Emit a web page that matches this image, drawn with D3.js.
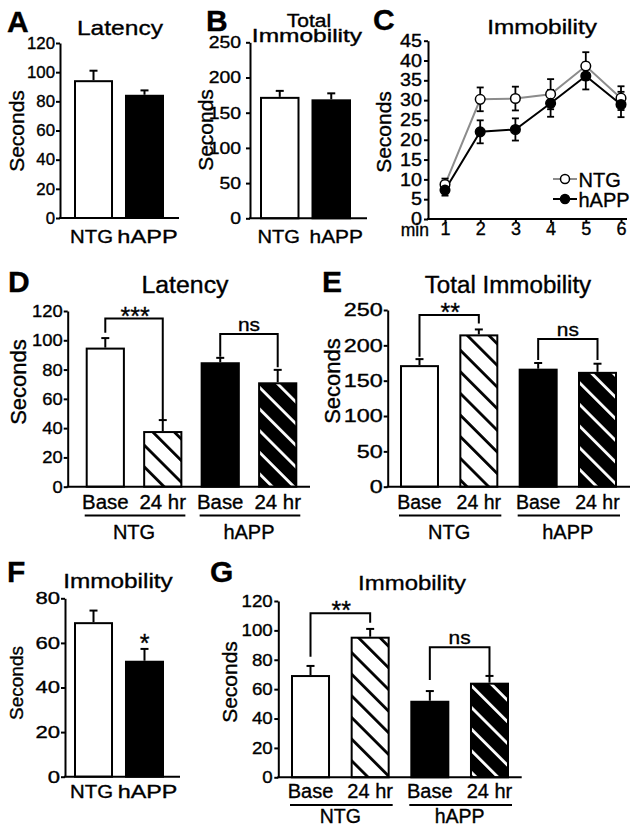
<!DOCTYPE html>
<html><head><meta charset="utf-8">
<script src="https://cdn.jsdelivr.net/npm/d3@7"></script>
<style>
body{margin:0;background:#fff}
svg{display:block}
svg text{stroke:#000;stroke-width:0.35px}
</style>
</head><body>
<svg id="c" width="640" height="832"></svg>
<script>
// ================= DATA =================
const groupsAB = ["NTG", "hAPP"];
const latencyA = [94.5, 84.5];
const latencyAErr = [6.5, 3];
const totalImmB = [172.5, 169];
const totalImmBErr = [8.5, 8.5];

const minutes = [1, 2, 3, 4, 5, 6];
const immNTG = [8.7, 30.2, 30.4, 31.5, 38.6, 30.5];
const immNTGErr = [1.5, 3, 3, 3.8, 3.5, 3];
const immHAPP = [7.3, 22, 22.6, 29.2, 36.1, 28.9];
const immHAPPErr = [1.4, 2.9, 2.8, 3.4, 3.4, 3.2];

const conditions = ["NTG Base", "NTG 24 hr", "hAPP Base", "hAPP 24 hr"];
const conditionLabels = ["Base", "24 hr", "Base", "24 hr"];
const genotypes = ["NTG", "hAPP"];
const latencyD = [95, 38, 85, 71.3];
const latencyDErr = [6.5, 7.5, 3, 8.5];
const totalImmE = [172, 215.5, 167, 162.5];
const totalImmEErr = [8.5, 7, 8, 11.5];
const immF = [69.3, 52];
const immFErr = [5.2, 5.3];
const immG = [69.6, 95.7, 52.1, 64.4];
const immGErr = [6.2, 5.3, 6.6, 4.6];

const ticks120 = [0, 20, 40, 60, 80, 100, 120];
const ticks250 = [0, 50, 100, 150, 200, 250];
const ticks45 = [0, 5, 10, 15, 20, 25, 30, 35, 40, 45];
const ticks80 = [0, 20, 40, 60, 80];

// significance brackets: [from bar, to bar, bracket top, left leg end, right leg end, label]
const sigD = [[0, 1, 114.8, 105.2, 45.6, "***"], [2, 3, 104.3, 88.8, 81.5, "ns"]];
const sigE = [[0, 1, 243, 184, 231, "**"], [2, 3, 209, 179.3, 179.3, "ns"]];
const sigG = [[0, 1, 111.6, 82.1, 105.2, "**"], [2, 3, 88.5, 66.2, 69.6, "ns"]];
const sigF = [[1, "*"]];

// ================= DRAWING =================
const FONT = '"Liberation Sans", Arial, Helvetica, sans-serif';
const svg = d3.select("#c");
const defs = svg.append("defs");
function hatch(id, bg, fg) {
  const s = 15.3;
  const p = defs.append("pattern").attr("id", id).attr("patternUnits", "userSpaceOnUse")
    .attr("width", s).attr("height", s).attr("patternTransform", "rotate(-45)");
  p.append("rect").attr("width", s).attr("height", s).attr("fill", bg);
  p.append("rect").attr("x", 0).attr("width", 2.8).attr("height", s).attr("fill", fg);
}
hatch("hw", "#fff", "#000");
hatch("hb", "#000", "#fff");
const fills2 = ["#fff", "#000"];
const fills4 = ["#fff", "url(#hw)", "#000", "url(#hb)"];

function stretch(sel, sx) {
  if (!sx || sx === 1) return;
  sel.each(function () {
    const l = this.getComputedTextLength();
    this.setAttribute("textLength", l * sx);
    this.setAttribute("lengthAdjust", "spacingAndGlyphs");
  });
}
function txt(g, s, x, y, fs, o = {}) {
  const t = g.append("text").attr("x", x).attr("y", y)
    .attr("font-family", FONT).attr("font-size", fs).attr("fill", "#000")
    .attr("text-anchor", o.anchor || "middle").text(s);
  if (o.bold) t.attr("font-weight", "bold");
  if (o.transform) t.attr("transform", o.transform);
  stretch(t, o.sx);
  return t;
}
function yLabel(g, x, y, fs) {
  return txt(g, "Seconds", 0, 0, fs, { transform: `translate(${x},${y}) rotate(-90)` });
}

function barPanel(o) {
  const g = svg.append("g");
  const y = d3.scaleLinear().domain(o.yDomain).range(o.yRange);
  const x = d3.scaleBand().domain(o.cats).range([o.barL, o.barR]).paddingInner(o.pi).paddingOuter(0);
  const bw = x.bandwidth();
  const rows = o.cats.map((c, i) => ({ c, v: o.values[i], e: o.errs[i], f: o.fills[i], lab: o.labels[i] }));
  const cx = d => x(d.c) + bw / 2;

  // error bars (upward)
  const eb = g.selectAll("g.eb").data(rows).join("g").attr("class", "eb");
  eb.append("line").attr("x1", cx).attr("x2", cx)
    .attr("y1", d => y(d.v)).attr("y2", d => y(d.v + d.e))
    .attr("stroke", "#000").attr("stroke-width", 2);
  eb.append("line").attr("x1", d => cx(d) - 4).attr("x2", d => cx(d) + 4)
    .attr("y1", d => y(d.v + d.e)).attr("y2", d => y(d.v + d.e))
    .attr("stroke", "#000").attr("stroke-width", 2);

  // bars
  g.selectAll("rect.bar").data(rows).join("rect").attr("class", "bar")
    .attr("x", d => x(d.c) + 1).attr("width", bw - 2)
    .attr("y", d => y(d.v) + 1).attr("height", d => y(0) - y(d.v) - 1)
    .attr("fill", d => d.f).attr("stroke", "#000").attr("stroke-width", 2);

  // y axis
  const ax = g.append("g").attr("transform", `translate(${o.axisX},0)`)
    .call(d3.axisLeft(y).tickValues(o.ticks).tickSize(4).tickPadding(o.pad).tickSizeOuter(0));
  ax.attr("font-family", FONT).attr("font-size", o.tickFs);
  ax.selectAll("path,line").attr("stroke", "#000").attr("stroke-width", 2);
  ax.selectAll("text").attr("fill", "#000");
  stretch(ax.selectAll("text"), o.tickSx);
  // x axis baseline
  g.append("line").attr("x1", o.axisX - 1).attr("x2", o.xEnd)
    .attr("y1", y(0)).attr("y2", y(0)).attr("stroke", "#000").attr("stroke-width", 2);

  // category labels
  rows.forEach((d, i) => {
    const sx = Array.isArray(o.labSx) ? o.labSx[i] : o.labSx;
    const dx = o.labDx ? o.labDx[i] : 0;
    txt(g, d.lab, cx(d) + dx, o.labY, o.labFs, { sx });
  });

  // genotype groups
  if (o.groups) {
    o.groups.forEach((name, k) => {
      const a = x(o.cats[2 * k]), b = x(o.cats[2 * k + 1]) + bw;
      g.append("line").attr("x1", a - 1).attr("x2", b + 3).attr("y1", o.ulY).attr("y2", o.ulY)
        .attr("stroke", "#000").attr("stroke-width", 2);
      txt(g, name, (a + b) / 2, o.grpY, o.grpFs, {});
    });
  }

  // significance brackets
  (o.sig || []).forEach(([i, j, top, l, r, lab]) => {
    const xa = cx(rows[i]), xb = cx(rows[j]);
    g.append("path").attr("d", `M${xa},${y(l)}V${y(top)}H${xb}V${y(r)}`)
      .attr("fill", "none").attr("stroke", "#000").attr("stroke-width", 2);
    if (lab === "ns") txt(g, lab, (xa + xb) / 2, y(top) - 3, 19, { sx: 1.1 });
    else txt(g, lab, (xa + xb) / 2 + 1, y(top) + 6, 25, {});
  });
  (o.stars || []).forEach(([i, lab]) => {
    const d = rows[i];
    txt(g, lab, cx(d), y(d.v + d.e) + 3, 25, {});
  });

  // titles, letter, y label
  if (o.titleLines) {
    const t = g.append("text").attr("font-family", FONT).attr("font-size", o.titleFs)
      .attr("fill", "#000").attr("text-anchor", "middle");
    o.titleLines.forEach(l => {
      const ts = t.append("tspan").attr("x", l.x).attr("y", l.y).text(l.text);
      ts.attr("textLength", ts.node().getComputedTextLength() * l.sx).attr("lengthAdjust", "spacingAndGlyphs");
    });
  }
  (o.titles || []).forEach(t => txt(g, t.text, t.x, t.y, t.fs, { sx: t.sx }));
  txt(g, o.letter, o.letterX, o.letterY, 30, { anchor: "start", bold: true });
  yLabel(g, o.ylx, o.yly, o.ylFs);
}

// ---- Panel A ----
barPanel({
  cats: groupsAB, labels: groupsAB, values: latencyA, errs: latencyAErr, fills: fills2,
  yDomain: [0, 120], yRange: [218, 43], ticks: ticks120, tickFs: 16.5, tickSx: 1.02, pad: 1,
  axisX: 60, xEnd: 179, barL: 74, barR: 164, pi: 0.235,
  labY: 243, labFs: 19, labSx: [1.07, 1.24], labDx: [-2, 3],
  titles: [{ text: "Latency", x: 120, y: 35, fs: 21, sx: 1.17 }],
  letter: "A", letterX: 7, letterY: 32, ylx: 24, yly: 131, ylFs: 21
});
// ---- Panel B ----
barPanel({
  cats: groupsAB, labels: groupsAB, values: totalImmB, errs: totalImmBErr, fills: fills2,
  yDomain: [0, 250], yRange: [218.3, 42.3], ticks: ticks250, tickFs: 17, tickSx: 1.14, pad: 5,
  axisX: 250, xEnd: 367, barL: 260, barR: 351, pi: 0.233,
  labY: 243, labFs: 19, labSx: [1.06, 1.1], labDx: [-1, 5],
  titleFs: 17.5,
  titleLines: [{ text: "Total", x: 309, y: 27, sx: 1.2 },
               { text: "Immobility", x: 307, y: 41.5, sx: 1.4 }],
  letter: "B", letterX: 206, letterY: 31, ylx: 213, yly: 130, ylFs: 21
});

// ---- Panel C (line chart) ----
(function () {
  const g = svg.append("g");
  const y = d3.scaleLinear().domain([0, 45]).range([219, 40.7]);
  const x = d3.scaleLinear().domain([1, 6]).range([445, 621]);
  const series = [
    { name: "NTG", v: immNTG, e: immNTGErr, line: "#8c8c8c", fill: "#fff" },
    { name: "hAPP", v: immHAPP, e: immHAPPErr, line: "#000", fill: "#000" }
  ];
  const ln = d3.line().x((d, i) => x(minutes[i])).y(d => y(d));
  series.forEach(s => {
    g.append("path").attr("d", ln(s.v)).attr("fill", "none").attr("stroke", s.line).attr("stroke-width", 2);
  });
  series.forEach(s => {
    s.v.forEach((v, i) => {
      const xx = x(minutes[i]);
      g.append("line").attr("x1", xx).attr("x2", xx).attr("y1", y(v - s.e[i])).attr("y2", y(v + s.e[i]))
        .attr("stroke", "#000").attr("stroke-width", 1.8);
      [v - s.e[i], v + s.e[i]].forEach(w =>
        g.append("line").attr("x1", xx - 3.5).attr("x2", xx + 3.5).attr("y1", y(w)).attr("y2", y(w))
          .attr("stroke", "#000").attr("stroke-width", 1.8));
    });
  });
  series.forEach(s => {
    g.selectAll(null).data(s.v).join("circle")
      .attr("cx", (d, i) => x(minutes[i])).attr("cy", d => y(d)).attr("r", 4.8)
      .attr("fill", s.fill).attr("stroke", "#000").attr("stroke-width", 1.5);
  });
  // axes
  const ax = g.append("g").attr("transform", "translate(428,0)")
    .call(d3.axisLeft(y).tickValues(ticks45).tickSize(4).tickPadding(2).tickSizeOuter(0));
  ax.attr("font-family", FONT).attr("font-size", 17.7);
  ax.selectAll("path,line").attr("stroke", "#000").attr("stroke-width", 2);
  ax.selectAll("text").attr("fill", "#000");
  stretch(ax.selectAll("text"), 1.12);
  const bx = g.append("g").attr("transform", `translate(0,${y(0)})`)
    .call(d3.axisBottom(x).tickValues(minutes).tickFormat(d3.format("d")).tickSize(4).tickPadding(0).tickSizeOuter(0));
  bx.attr("font-family", FONT).attr("font-size", 18);
  bx.select(".domain").remove();
  bx.selectAll("line").attr("stroke", "#000").attr("stroke-width", 2);
  bx.selectAll("text").attr("fill", "#000").attr("dy", null).attr("y", 16);
  g.append("line").attr("x1", 427).attr("x2", 627).attr("y1", y(0)).attr("y2", y(0))
    .attr("stroke", "#000").attr("stroke-width", 2);
  txt(g, "min", 429, 236, 17.5, { anchor: "end" });
  // legend
  series.forEach((s, k) => {
    const ly = 179 + k * 20;
    g.append("line").attr("x1", 553).attr("x2", 577).attr("y1", ly).attr("y2", ly)
      .attr("stroke", s.line).attr("stroke-width", 2);
    g.append("circle").attr("cx", 565).attr("cy", ly).attr("r", 4.5)
      .attr("fill", s.fill).attr("stroke", "#000").attr("stroke-width", 1.5);
    txt(g, s.name, 578.5, ly + 7.5, 20, { anchor: "start" });
  });
  txt(g, "Immobility", 542, 34, 19.5, { sx: 1.25 });
  txt(g, "C", 373, 30, 30, { anchor: "start", bold: true });
  yLabel(g, 391, 132, 21);
})();

// ---- Panel D ----
barPanel({
  cats: conditions, labels: conditionLabels, values: latencyD, errs: latencyDErr, fills: fills4,
  yDomain: [0, 120], yRange: [486.7, 311], ticks: ticks120, tickFs: 17, tickSx: 1.08, pad: 1,
  axisX: 67.7, xEnd: 310, barL: 85.7, barR: 297.3, pi: 0.318,
  labY: 509, labFs: 20, labSx: 1.02,
  groups: genotypes, ulY: 515.5, grpY: 539, grpFs: 20,
  sig: sigD,
  titles: [{ text: "Latency", x: 185, y: 293, fs: 23, sx: 1.08 }],
  letter: "D", letterX: 8, letterY: 292, ylx: 26, yly: 382, ylFs: 22
});
// ---- Panel E ----
barPanel({
  cats: conditions, labels: conditionLabels, values: totalImmE, errs: totalImmEErr, fills: fills4,
  yDomain: [0, 250], yRange: [486.7, 310], ticks: ticks250, tickFs: 18, tickSx: 1.3, pad: 1,
  axisX: 387.7, xEnd: 630, barL: 400, barR: 617, pi: 0.343,
  labY: 508.5, labFs: 19.5, labSx: 1,
  groups: genotypes, ulY: 515.5, grpY: 539, grpFs: 20,
  sig: sigE,
  titles: [{ text: "Total Immobility", x: 508, y: 293, fs: 23, sx: 1.05 }],
  letter: "E", letterX: 322, letterY: 292, ylx: 340, yly: 381, ylFs: 22
});
// ---- Panel F ----
barPanel({
  cats: groupsAB, labels: groupsAB, values: immF, errs: immFErr, fills: fills2,
  yDomain: [0, 80], yRange: [776.7, 598.3], ticks: ticks80, tickFs: 17, tickSx: 1.3, pad: 1,
  axisX: 65, xEnd: 180, barL: 74, barR: 164, pi: 0.235,
  labY: 798, labFs: 18.5, labSx: [1.1, 1.26], labDx: [-2, 3],
  stars: sigF,
  titles: [{ text: "Immobility", x: 118, y: 588, fs: 21, sx: 1.16 }],
  letter: "F", letterX: 7, letterY: 582, ylx: 23, yly: 683, ylFs: 19
});
// ---- Panel G ----
barPanel({
  cats: conditions, labels: conditionLabels, values: immG, errs: immGErr, fills: fills4,
  yDomain: [0, 120], yRange: [777.3, 601], ticks: ticks120, tickFs: 17, tickSx: 1.1, pad: 1.6,
  axisX: 278.3, xEnd: 521.7, barL: 291, barR: 509, pi: 0.346,
  labY: 798.3, labFs: 20, labSx: 1,
  groups: genotypes, ulY: 805, grpY: 823, grpFs: 19.5,
  sig: sigG,
  titles: [{ text: "Immobility", x: 412, y: 590, fs: 21, sx: 1.14 }],
  letter: "G", letterX: 210, letterY: 582, ylx: 237, yly: 682, ylFs: 21
});
</script>
</body></html>
